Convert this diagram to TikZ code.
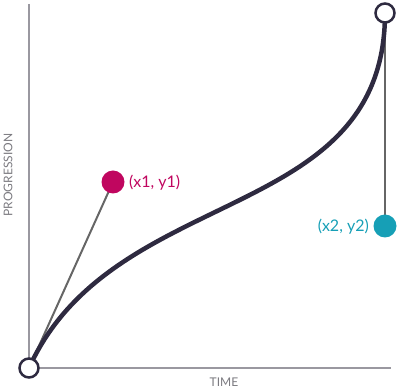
\documentclass[tikz,border=0pt]{standalone}
\usepackage{fontspec}
\setmainfont{Lato}
\definecolor{navy}{HTML}{2E2A40}
\definecolor{pinkc}{HTML}{C0065F}
\definecolor{tealc}{HTML}{169FB6}
\definecolor{axisc}{HTML}{9A98A0}
\definecolor{handc}{HTML}{666666}
\begin{document}
\begin{tikzpicture}[x=1pt,y=-1pt,
  axis/.style={draw=axisc,line width=1.5pt},
  handle/.style={draw=handc,line width=2pt},
  endpt/.style={circle,draw=navy,fill=white,line width=2.5pt,minimum size=19pt,inner sep=0pt},
  ctrlpt/.style={circle,minimum size=23pt,inner sep=0pt},
  lbl/.style={font=\fontsize{12}{14}\selectfont,text=axisc!80!black},
  ptlbl/.style={font=\fontsize{16}{18}\selectfont,inner sep=0pt}]
\useasboundingbox (0,0) rectangle (400,390);
\coordinate (top) at (29,4);
\coordinate (right) at (391,368);
\coordinate (S) at (29,368);
\coordinate (E) at (385,13);
\coordinate (C1) at (113,182);
\coordinate (C2) at (385,226);
\draw[axis] (top) -- (S) -- (right);
\draw[handle] (S) -- (C1);
\draw[handle] (E) -- (C2);
\draw[navy,line width=4.5pt] (S) .. controls (C1) and (C2) .. (E);
\node[endpt] (s) at (S) {};
\node[endpt] (e) at (E) {};
\node[ctrlpt,fill=pinkc] (p1) at (C1) {};
\node[ctrlpt,fill=tealc] (p2) at (C2) {};
\node[ptlbl,anchor=west,text=pinkc] (l1) at (129,183) {(x1, y1)};
\node[ptlbl,anchor=east,text=tealc] (l2) at (369,227) {(x2, y2)};
\node[lbl,rotate=90] (yl) at (8,175) {PROGRESSION};
\node[lbl] (xl) at (224,382) {TIME};
\end{tikzpicture}
\end{document}
